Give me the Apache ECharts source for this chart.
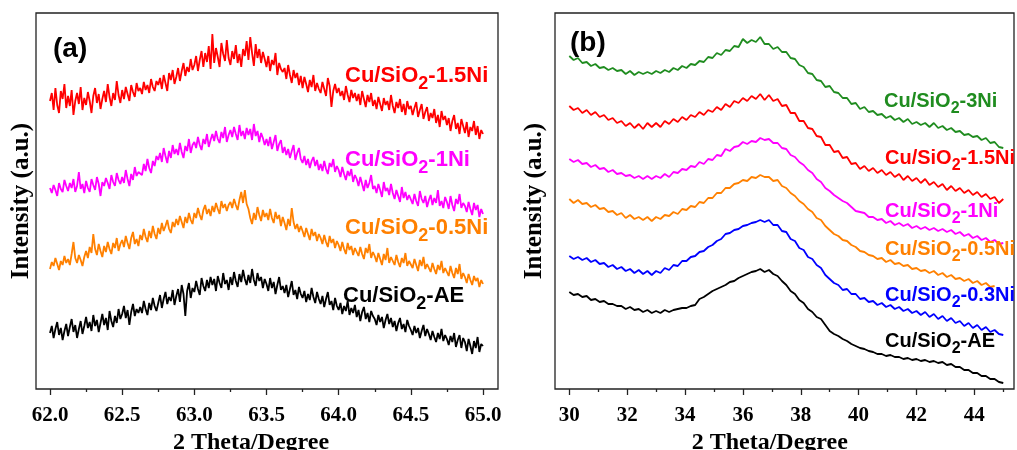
<!DOCTYPE html>
<html>
<head>
<meta charset="utf-8">
<script src="https://cdn.jsdelivr.net/npm/echarts@6/dist/echarts.min.js"></script>
<style>
html, body { margin: 0; padding: 0; background: #fff; }
#main { width: 1017px; height: 450px; }
</style>
</head>
<body>
<div id="main"></div>
<script>
// panel (a): 62.0 - 65.0, one reading every 0.0125 degree
var aStart = 62.0, aStep = 0.0125;
var aTicks = [62.0, 62.5, 63.0, 63.5, 64.0, 64.5, 65.0];

var a_15Ni = [
    288, 296, 279, 301, 284, 276, 298, 290, 305, 281,
    293, 283, 299, 274, 288, 296, 285, 302, 279, 291,
    284, 297, 288, 276, 293, 301, 286, 295, 280, 290,
    298, 287, 305, 292, 283, 296, 289, 308, 294, 286,
    299, 290, 302, 295, 288, 304, 297, 292, 306, 298,
    301, 295, 307, 299, 304, 296, 310, 302, 298, 308,
    304, 311, 300, 314, 306, 298, 316, 309, 319, 305,
    312, 321, 308, 318, 326, 313, 322, 317, 330, 319,
    324, 333, 318, 329, 338, 322, 336, 327, 343, 320,
    355, 326, 341, 332, 322, 346, 335, 328, 349, 331,
    324, 338, 330, 344, 326, 335, 322, 340, 333, 348,
    329, 352, 336, 323, 345, 331, 340, 326, 337, 330,
    322, 333, 318, 329, 324, 336, 314, 326, 320, 317,
    321, 310, 324, 314, 306, 319, 311, 316, 304, 313,
    301, 312, 305, 297, 309, 302, 314, 298, 306, 300,
    296, 307, 300, 293, 311, 303, 282, 298, 305, 296,
    301, 293, 298, 289, 303, 294, 287, 299, 291, 296,
    288, 295, 284, 298, 290, 282, 294, 287, 296, 283,
    289, 280, 292, 285, 278, 291, 284, 288, 279, 294,
    283, 276, 287, 281, 290, 277, 285, 274, 288, 280,
    283, 274, 281, 287, 272, 279, 285, 270, 277, 282,
    268, 276, 271, 280, 266, 274, 262, 278, 269, 273,
    264, 271, 258, 268, 274, 260, 266, 255, 270, 263,
    256, 267, 252, 262, 258, 268, 254, 263, 250, 259,
    255
];
var a_1Ni = [
    201, 196, 204, 199, 193, 206, 200, 197, 209, 203,
    198, 206, 201, 210, 197, 203, 217, 200, 205, 196,
    208, 201, 197, 210, 204, 199, 212, 205, 193, 207,
    203, 211, 206, 200, 214, 207, 203, 216, 209, 205,
    212, 206, 219, 210, 203, 215, 209, 222, 213, 217,
    219, 214, 225, 218, 230, 221, 216, 228, 223, 233,
    229, 236, 227, 241, 233, 226, 238, 231, 244, 235,
    240, 234, 246, 237, 231, 243, 238, 250, 236, 244,
    247, 241, 252, 244, 239, 250, 245, 255, 242, 249,
    255, 248, 258, 250, 246, 257, 251, 262, 247, 254,
    259, 252, 262, 255, 249, 264, 253, 258, 250, 261,
    254, 260, 249, 265, 253, 258, 247, 256, 251, 244,
    250, 243, 252, 240, 247, 254, 238, 245, 249, 236,
    242, 234, 240, 231, 238, 244, 229, 236, 241, 230,
    226, 233, 224, 230, 221, 228, 232, 223, 229, 219,
    225, 218, 228, 220, 215, 226, 222, 230, 217, 223,
    219, 212, 222, 215, 209, 218, 213, 220, 207, 214,
    210, 203, 212, 205, 198, 209, 201, 206, 214, 200,
    203, 196, 205, 199, 192, 207, 198, 201, 194, 205,
    196, 190, 199, 193, 187, 202, 191, 197, 189, 194,
    192, 185, 195, 188, 183, 198, 190, 186, 193, 182,
    189, 194, 184, 191, 186, 199, 183, 188, 181, 192,
    187, 180, 193, 184, 178, 190, 185, 195, 181, 186,
    183, 177, 187, 180, 174, 186, 179, 184, 172, 180,
    175
];
var a_05Ni = [
    120, 127, 123, 131, 125, 119, 128, 124, 133, 126,
    130, 124, 135, 147, 131, 126, 134, 129, 123, 132,
    138, 131, 142, 136, 155, 140, 134, 145, 138, 132,
    143, 137, 147, 140, 135, 146, 141, 151, 138, 145,
    149, 142, 153, 146, 140, 151, 157, 145, 150, 143,
    154, 149, 160, 152, 147, 158, 151, 163, 155, 150,
    161, 155, 166, 158, 163, 169, 160, 156, 167, 162,
    170, 164, 173, 167, 161, 172, 166, 176, 169, 165,
    176, 171, 181, 174, 169, 179, 184, 175, 180, 173,
    183, 177, 186, 180, 175, 188, 181, 185, 178, 184,
    187, 181, 190, 184, 179, 189, 197, 186, 199, 185,
    180, 171, 165, 176, 169, 182, 174, 168, 179, 172,
    176, 169, 180, 171, 166, 177, 170, 174, 163, 172,
    166, 159, 170, 163, 181, 167, 160, 165, 157, 163,
    158, 152, 161, 155, 149, 160, 153, 157, 148, 155,
    151, 145, 154, 147, 142, 153, 146, 150, 141, 148,
    144, 138, 147, 140, 135, 146, 139, 143, 134, 141,
    139, 133, 142, 135, 130, 141, 136, 145, 131, 137,
    133, 127, 136, 130, 124, 135, 129, 141, 126, 132,
    130, 124, 134, 127, 122, 131, 126, 136, 123, 128,
    127, 121, 130, 124, 118, 129, 123, 132, 120, 125,
    123, 117, 126, 120, 115, 124, 119, 128, 116, 121,
    119, 113, 123, 116, 111, 121, 115, 125, 110, 116,
    112, 106, 115, 109, 104, 113, 108, 111, 102, 109,
    105
];
var a_AE = [
    56, 63, 51, 60, 67, 54, 61, 49, 58, 65,
    53, 62, 70, 57, 64, 51, 60, 68, 55, 63,
    72, 61, 67, 58, 74, 63, 69, 57, 66, 75,
    64, 71, 59, 78, 68, 62, 73, 66, 80, 70,
    75, 83, 71, 79, 64, 77, 85, 73, 80, 76,
    82, 76, 88, 80, 74, 86, 79, 91, 83, 78,
    86, 94, 81, 90, 97, 85, 92, 88, 99, 84,
    93, 100, 87, 104, 95, 73, 98, 106, 91, 101,
    97, 108, 100, 94, 111, 103, 98, 109, 101, 112,
    104, 110, 98, 113, 106, 101, 116, 105, 109, 99,
    112, 104, 117, 108, 102, 115, 107, 119, 110, 104,
    114, 106, 120, 109, 103, 116, 108, 112, 101, 110,
    105, 98, 111, 101, 107, 95, 104, 112, 99, 103,
    96, 104, 92, 100, 108, 94, 99, 90, 102, 95,
    91, 98, 87, 95, 89, 101, 92, 86, 97, 90,
    85, 93, 82, 90, 97, 84, 88, 79, 91, 83,
    79, 86, 75, 83, 78, 88, 74, 81, 76, 84,
    72, 79, 68, 77, 82, 70, 76, 67, 78, 73,
    70, 64, 74, 67, 72, 61, 69, 75, 65, 71,
    62, 68, 58, 66, 71, 60, 65, 57, 69, 63,
    59, 54, 63, 56, 61, 51, 58, 64, 53, 60,
    55, 49, 58, 52, 47, 56, 50, 60, 48, 54,
    50, 44, 53, 47, 56, 42, 49, 54, 41, 51,
    47, 38, 50, 43, 35, 48, 41, 52, 37, 45,
    43
];

// panel (b): 30 - 45, one reading every 0.15 degree
var bStart = 30, bStep = 0.15;
var bTicks = [30, 32, 34, 36, 38, 40, 42, 44];

var b_3Ni = [
    333, 329, 331, 326, 327, 323, 325, 321, 322, 319,
    321, 318, 319, 315, 318, 314, 317, 315, 317, 315,
    318, 316, 319, 317, 321, 319, 323, 321, 325, 324,
    328, 327, 332, 331, 336, 334, 339, 338, 343, 342,
    350, 346, 349, 347, 352, 345, 345, 340, 342, 337,
    337, 331, 330, 324, 322, 316, 315, 309, 308, 302,
    303, 297, 296, 291, 291, 285, 286, 280, 282, 277,
    278, 274, 275, 271, 273, 269, 271, 267, 270, 265,
    267, 264, 266, 262, 266, 261, 263, 259, 261, 257,
    258, 254, 255, 252, 253, 249, 251, 246, 247, 242,
    241
];
var b_15Ni = [
    283, 279, 281, 276, 279, 274, 277, 272, 274, 269,
    271, 266, 268, 263, 266, 261, 265, 260, 266, 262,
    266, 262, 268, 265, 270, 267, 272, 269, 274, 272,
    277, 274, 279, 277, 282, 279, 285, 282, 288, 286,
    291, 288, 293, 290, 295, 289, 294, 288, 290, 283,
    284, 276, 276, 268, 268, 261, 260, 253, 252, 244,
    244, 237, 238, 231, 232, 225, 226, 220, 223, 218,
    221, 216, 219, 214, 217, 212, 215, 209, 213, 208,
    211, 206, 210, 204, 207, 202, 205, 199, 203, 198,
    201, 196, 199, 194, 197, 192, 195, 190, 192, 186,
    190
];
var b_1Ni = [
    230, 227, 229, 225, 226, 222, 224, 220, 221, 217,
    219, 215, 216, 213, 214, 211, 213, 210, 213, 210,
    213, 211, 215, 212, 217, 216, 220, 219, 223, 222,
    227, 225, 230, 229, 234, 233, 240, 238, 242, 243,
    247, 245, 248, 247, 251, 249, 250, 246, 246, 241,
    240, 234, 232, 227, 224, 219, 216, 210, 207, 201,
    198, 194, 191, 188, 186, 182, 178, 177, 176, 172,
    172, 169, 170, 166, 168, 164, 166, 163, 165, 161,
    163, 160, 162, 159, 161, 158, 160, 157, 159, 155,
    157, 153, 155, 151, 153, 149, 151, 147, 149, 145,
    146
];
var b_05Ni = [
    190, 186, 189, 185, 186, 182, 184, 180, 181, 177,
    178, 174, 176, 171, 174, 170, 172, 169, 172, 168,
    172, 170, 174, 173, 177, 175, 180, 179, 183, 182,
    187, 186, 191, 191, 196, 196, 201, 201, 205, 206,
    209, 208, 212, 211, 214, 212, 212, 208, 209, 203,
    201, 196, 193, 188, 185, 180, 177, 171, 169, 163,
    159, 155, 153, 149, 148, 144, 142, 138, 137, 134,
    133, 130, 131, 127, 129, 125, 126, 123, 124, 120,
    121, 118, 119, 116, 118, 114, 116, 112, 114, 110,
    111, 108, 110, 106, 108, 104, 106, 102, 103
];
var b_03Ni = [
    133, 130, 132, 129, 131, 127, 129, 125, 126, 122,
    124, 120, 122, 118, 120, 116, 119, 115, 118, 114,
    118, 116, 121, 119, 124, 123, 128, 128, 132, 133,
    137, 138, 142, 144, 148, 150, 155, 156, 159, 160,
    163, 164, 166, 167, 169, 167, 169, 164, 164, 158,
    157, 150, 148, 141, 139, 132, 130, 124, 121, 114,
    110, 106, 104, 99, 100, 95, 95, 90, 91, 87,
    88, 84, 86, 82, 84, 80, 82, 78, 80, 76,
    78, 74, 77, 72, 75, 70, 73, 68, 71, 66,
    68, 63, 66, 61, 64, 59, 62, 57, 59, 55,
    54
];
var b_AE = [
    97, 94, 95, 92, 93, 89, 90, 87, 88, 85,
    85, 83, 83, 80, 82, 79, 80, 77, 79, 76,
    78, 76, 79, 77, 79, 80, 81, 81, 83, 84,
    90, 92, 95, 98, 100, 102, 104, 107, 108, 111,
    113, 115, 117, 118, 120, 117, 119, 115, 113, 108,
    104, 98, 95, 89, 86, 80, 77, 72, 70, 64,
    58, 55, 53, 50, 48, 45, 43, 41, 40, 38,
    37, 35, 35, 33, 34, 32, 32, 30, 31, 29,
    30, 28, 29, 27, 28, 26, 27, 24, 25, 22,
    22, 19, 19, 16, 16, 13, 13, 10, 10, 7,
    6
];

var aNames = ['Cu/SiO2-1.5Ni', 'Cu/SiO2-1Ni', 'Cu/SiO2-0.5Ni', 'Cu/SiO2-AE'];
var bNames = ['Cu/SiO2-3Ni', 'Cu/SiO2-1.5Ni', 'Cu/SiO2-1Ni', 'Cu/SiO2-0.5Ni', 'Cu/SiO2-0.3Ni', 'Cu/SiO2-AE'];

var myChart = echarts.init(document.getElementById('main'));

function toPairs(x0, step, ys) {
    return ys.map(function (y, i) {
        return [Math.round((x0 + i * step) * 10000) / 10000, y];
    });
}

function lineSeries(name, color, idx, x0, step, ys) {
    return {
        name: name,
        type: 'line',
        xAxisIndex: idx,
        yAxisIndex: idx,
        data: toPairs(x0, step, ys),
        showSymbol: false,
        symbol: 'none',
        lineStyle: { color: color, width: 1.8 },
        itemStyle: { color: color },
        animation: false
    };
}

var serif = "'Liberation Serif', 'Times New Roman', serif";
var sans = "'Liberation Sans', Arial, sans-serif";

function xAxisOf(idx, min, max, interval, ticks, digits, namePad) {
    return {
        gridIndex: idx,
        type: 'value',
        min: min,
        max: max,
        interval: interval,
        name: '2 Theta/Degree',
        nameLocation: 'middle',
        nameGap: 35,
        nameTextStyle: {
            fontFamily: serif, fontWeight: 'bold', fontSize: 24, color: '#000',
            padding: [0, namePad, 0, 0]
        },
        axisLine: { show: false },
        axisTick: { show: true, inside: false, length: 6, lineStyle: { color: '#222', width: 1.3 } },
        minorTick: { show: true, splitNumber: 2, length: 3, lineStyle: { color: '#222', width: 1.3 } },
        splitLine: { show: false },
        minorSplitLine: { show: false },
        axisLabel: {
            show: true,
            margin: 16,
            showMinLabel: true,
            showMaxLabel: true,
            fontFamily: serif, fontWeight: 'bold', fontSize: 21, color: '#000',
            formatter: function (v) {
                return ticks.indexOf(v) >= 0 ? v.toFixed(digits) : '';
            }
        }
    };
}

function yAxisOf(idx, gap) {
    return {
        gridIndex: idx,
        type: 'value',
        min: 0,
        max: 376,
        name: 'Intensity (a.u.)',
        nameLocation: 'middle',
        nameGap: gap,
        nameTextStyle: { fontFamily: serif, fontWeight: 'bold', fontSize: 25, color: '#000' },
        axisLine: { show: false },
        axisTick: { show: false },
        axisLabel: { show: false },
        splitLine: { show: false }
    };
}

// sample name with the "2" of SiO2 dropped as a subscript
function sampleLabel(text, color, x, capTop, size) {
    var parts = text.split('2');
    return {
        type: 'text',
        x: x,
        y: capTop - 4,
        z: 10,
        style: {
            text: '{m|' + parts[0] + '}{s|2}{m|' + parts.slice(1).join('2') + '}',
            fill: color,
            verticalAlign: 'top',
            rich: {
                m: { fontFamily: sans, fontWeight: 'bold', fontSize: size, lineHeight: 24, fill: color },
                s: { fontFamily: sans, fontWeight: 'bold', fontSize: Math.round(size * 0.82),
                     height: 8, lineHeight: 8, verticalAlign: 'bottom', fill: color }
            }
        }
    };
}

var aColors = ['#ff0000', '#ff00ff', '#ff8000', '#000000'];
var bColors = ['#1f8c1f', '#ff0000', '#ff00ff', '#ff8000', '#0000ff', '#000000'];
var aData = [a_15Ni, a_1Ni, a_05Ni, a_AE];
var bData = [b_3Ni, b_15Ni, b_1Ni, b_05Ni, b_03Ni, b_AE];

var seriesList = [];
aData.forEach(function (ys, i) {
    seriesList.push(lineSeries('(a) ' + aNames[i], aColors[i], 0, aStart, aStep, ys));
});
bData.forEach(function (ys, i) {
    seriesList.push(lineSeries('(b) ' + bNames[i], bColors[i], 1, bStart, bStep, ys));
});

var aLabelPos = [[345, 68], [345, 152], [345, 220], [343, 288]];
var bLabelPos = [[884, 93], [885, 150], [885, 203], [885, 241], [885, 287], [885, 333]];

var graphics = [
    { type: 'rect', z: 5, shape: { x: 36, y: 13, width: 462, height: 376 },
      style: { fill: 'none', stroke: '#222', lineWidth: 1.3 } },
    { type: 'rect', z: 5, shape: { x: 555, y: 13, width: 459, height: 376 },
      style: { fill: 'none', stroke: '#222', lineWidth: 1.3 } },
    { type: 'text', x: 53, y: 35, z: 10,
      style: { text: '(a)', fill: '#000', font: 'bold 28px ' + sans, verticalAlign: 'top' } },
    { type: 'text', x: 570, y: 29, z: 10,
      style: { text: '(b)', fill: '#000', font: 'bold 28px ' + sans, verticalAlign: 'top' } }
];
aNames.forEach(function (n, i) {
    graphics.push(sampleLabel(n, aColors[i], aLabelPos[i][0], aLabelPos[i][1], 22));
});
bNames.forEach(function (n, i) {
    graphics.push(sampleLabel(n, bColors[i], bLabelPos[i][0], bLabelPos[i][1], 20));
});

option = {
    backgroundColor: '#ffffff',
    animation: false,
    grid: [
        { left: 50, top: 13, width: 433, height: 376, outerBoundsMode: 'none', containLabel: false },
        { left: 569.3, top: 13, width: 462.9, height: 376, outerBoundsMode: 'none', containLabel: false }
    ],
    xAxis: [
        xAxisOf(0, 62, 65, 0.5, aTicks, 1, 31),
        xAxisOf(1, 30, 46, 2, bTicks, 0, 62)
    ],
    yAxis: [
        yAxisOf(0, 16),
        yAxisOf(1, 22)
    ],
    graphic: graphics,
    series: seriesList
};

myChart.setOption(option);
</script>
</body>
</html>
